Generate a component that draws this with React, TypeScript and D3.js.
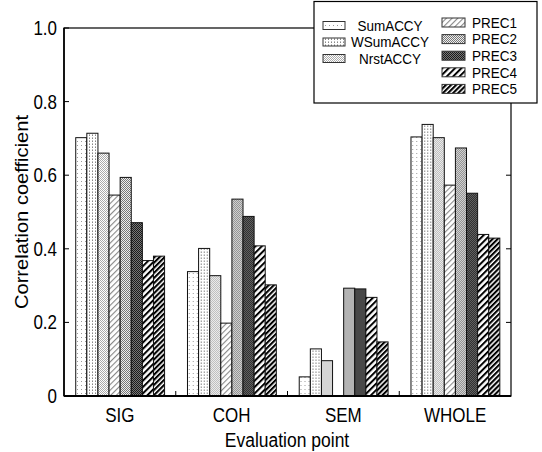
import React from 'react';
import * as d3 from 'd3';

// evaluation points and series
const categories = ['SIG', 'COH', 'SEM', 'WHOLE'];
const seriesNames = ['SumACCY', 'WSumACCY', 'NrstACCY', 'PREC1', 'PREC2', 'PREC3', 'PREC4', 'PREC5'];
const sumAccy = [0.702, 0.338, 0.052, 0.704];
const wSumAccy = [0.714, 0.401, 0.128, 0.738];
const nrstAccy = [0.66, 0.327, 0.096, 0.702];
const prec1 = [0.546, 0.198, 0, 0.573];
const prec2 = [0.594, 0.535, 0.293, 0.674];
const prec3 = [0.471, 0.488, 0.291, 0.551];
const prec4 = [0.368, 0.408, 0.268, 0.439];
const prec5 = [0.38, 0.302, 0.147, 0.429];
const yTicks = [0, 0.2, 0.4, 0.6, 0.8, 1.0];

const seriesValues = [sumAccy, wSumAccy, nrstAccy, prec1, prec2, prec3, prec4, prec5];

const FONT = '"Liberation Sans", Arial, sans-serif';
const SY = 1.15; // the figure is a bit squeezed sideways, so text looks tall

const Patterns = () => (
  <defs>
    <pattern id="p0" width="4" height="4" patternUnits="userSpaceOnUse">
      <rect width="4" height="4" fill="#fff" />
      <rect x="1" y="1" width="1" height="1" fill="#999" />
    </pattern>
    <pattern id="p1" width="3" height="3" patternUnits="userSpaceOnUse">
      <rect width="3" height="3" fill="#fff" />
      <rect x="1" y="0" width="1" height="1" fill="#888" />
      <rect x="1" y="2" width="1" height="1" fill="#bbb" />
    </pattern>
    <pattern id="p2" width="2" height="2" patternUnits="userSpaceOnUse">
      <rect width="2" height="2" fill="#fff" />
      <rect x="0" y="0" width="1" height="1" fill="#aaa" />
      <rect x="1" y="1" width="1" height="1" fill="#aaa" />
    </pattern>
    <pattern id="p3" width="4" height="4" patternUnits="userSpaceOnUse" patternTransform="rotate(45)">
      <rect width="4" height="4" fill="#fff" />
      <rect x="0" y="0" width="1.1" height="4" fill="#888" />
    </pattern>
    <pattern id="p4" width="2" height="2" patternUnits="userSpaceOnUse">
      <rect width="2" height="2" fill="#eee" />
      <rect x="0" y="0" width="1" height="1" fill="#777" />
      <rect x="1" y="1" width="1" height="1" fill="#777" />
    </pattern>
    <pattern id="p5" width="2" height="2" patternUnits="userSpaceOnUse">
      <rect width="2" height="2" fill="#777" />
      <rect x="0" y="0" width="1" height="1" fill="#1a1a1a" />
      <rect x="1" y="1" width="1" height="1" fill="#1a1a1a" />
    </pattern>
    <pattern id="p6" width="4.5" height="4.5" patternUnits="userSpaceOnUse" patternTransform="rotate(45)">
      <rect width="4.5" height="4.5" fill="#fff" />
      <rect x="0" y="0" width="2" height="4.5" fill="#000" />
    </pattern>
    <pattern id="p7" width="3.6" height="3.6" patternUnits="userSpaceOnUse" patternTransform="rotate(45)">
      <rect width="3.6" height="3.6" fill="#fff" />
      <rect x="0" y="0" width="2.1" height="3.6" fill="#000" />
    </pattern>
  </defs>
);

const Label = ({ x, y, size, anchor = 'middle', rotate = false, children }: any) => (
  <g transform={rotate ? `translate(${x},${y}) rotate(-90) scale(${SY},1)` : `translate(${x},${y}) scale(1,${SY})`}>
    <text
      x={0}
      y={0}
      textAnchor={anchor}
      dominantBaseline="central"
      fontFamily={FONT}
      fontSize={size}
      fill="#000"
    >
      {children}
    </text>
  </g>
);

export default function App() {
  const w = 542;
  const h = 452;
  const left = 64;
  const right = 511;
  const top = 28;
  const bottom = 396;

  const x0 = d3.scaleBand<string>().domain(categories).range([left, right]).padding(0);
  const bw = x0.bandwidth();
  const x1 = d3
    .scaleBand<string>()
    .domain(seriesNames)
    .range([bw * 0.105, bw * 0.9])
    .padding(0);
  const y = d3.scaleLinear().domain([0, 1]).range([bottom, top]);

  return (
    <svg width={w} height={h} style={{ position: 'absolute', left: 0, top: 0, background: '#fff' }}>
      <Patterns />
      <rect width={w} height={h} fill="#fff" />

      {/* bars */}
      {categories.map((cat, ci) => (
        <g key={cat} transform={`translate(${x0(cat)},0)`}>
          {seriesNames.map((s, si) => {
            const v = seriesValues[si][ci];
            if (v <= 0) return null;
            return (
              <rect
                key={s}
                x={x1(s)}
                y={y(v)}
                width={x1.bandwidth()}
                height={bottom - y(v)}
                fill={`url(#p${si})`}
                stroke="#111"
                strokeWidth={1}
              />
            );
          })}
        </g>
      ))}

      {/* frame */}
      <rect x={left} y={top} width={right - left} height={bottom - top} fill="none" stroke="#000" strokeWidth={1.2} />
      <line x1={left} x2={right} y1={bottom} y2={bottom} stroke="#000" strokeWidth={2} />
      <line x1={left} x2={left} y1={top} y2={bottom} stroke="#000" strokeWidth={1.6} />

      {/* y ticks, inward on both sides */}
      {yTicks.map((t) => (
        <g key={t}>
          <line x1={left} x2={left + 5} y1={y(t)} y2={y(t)} stroke="#000" strokeWidth={1} />
          <line x1={right - 5} x2={right} y1={y(t)} y2={y(t)} stroke="#000" strokeWidth={1} />
          <Label x={57} y={y(t)} size={17} anchor="end">
            {t === 0 ? '0' : d3.format('.1f')(t)}
          </Label>
        </g>
      ))}

      {/* x ticks at group boundaries */}
      {categories.slice(1).map((cat) => (
        <line key={cat} x1={x0(cat)} x2={x0(cat)} y1={bottom - 5} y2={bottom} stroke="#000" strokeWidth={1} />
      ))}
      {categories.map((cat) => (
        <Label key={cat} x={(x0(cat) as number) + bw / 2} y={415} size={17}>
          {cat}
        </Label>
      ))}

      <Label x={287} y={440} size={17.5}>
        Evaluation point
      </Label>
      <Label x={22} y={(top + bottom) / 2} size={17.5} rotate>
        Correlation coefficient
      </Label>

      {/* legend */}
      <g>
        <rect x={314} y={1.5} width={223} height={101.5} fill="#fff" stroke="#000" strokeWidth={1.2} />
        {seriesNames.slice(0, 3).map((s, i) => {
          const cy = 25.5 + i * 16.5;
          return (
            <g key={s}>
              <rect x={323} y={cy - 4} width={22} height={8} fill={`url(#p${i})`} stroke="#333" strokeWidth={1} />
              <Label x={390} y={cy} size={13.5}>
                {s}
              </Label>
            </g>
          );
        })}
        {seriesNames.slice(3).map((s, i) => {
          const cy = 22.5 + i * 16.6;
          return (
            <g key={s}>
              <rect x={442} y={cy - 4.5} width={23} height={9} fill={`url(#p${i + 3})`} stroke="#333" strokeWidth={1} />
              <Label x={472} y={cy} size={13.5} anchor="start">
                {s}
              </Label>
            </g>
          );
        })}
      </g>
    </svg>
  );
}
